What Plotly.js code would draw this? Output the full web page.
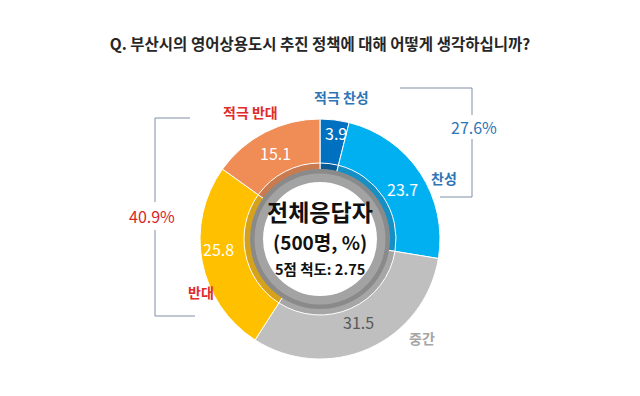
<!DOCTYPE html>
<html>
<head>
<meta charset="utf-8">
<script src="https://cdn.plot.ly/plotly-3.0.1.min.js"></script>
<style>html,body{margin:0;padding:0;background:#fff;}#chart{width:640px;height:396px;}</style>
</head>
<body>
<div id="chart"></div>
<script>
// ---- data ----
const categories = ["적극 찬성", "찬성", "중간", "반대", "적극 반대"];
const values = [3.9, 23.7, 31.5, 25.8, 15.1];
const titleText = "Q. 부산시의 영어상용도시 추진 정책에 대해 어떻게 생각하십니까?";
const centerLines = ["전체응답자", "(500명, %)", "5점 척도: 2.75"];

// ---- styles / layout constants ----
const sliceColors = ["#0070C0", "#00B0F0", "#BFBFBF", "#FFC000", "#F08C56"];
const bandColors  = ["#0A5A96", "#1690C4", "#A6A6A6", "#D6A21C", "#C97A4E"];
const valueColors = ["#FFFFFF", "#FFFFFF", "#595959", "#FFFFFF", "#FFFFFF"];
const catColors   = ["#2E75B6", "#2E75B6", "#A6A6A6", "#E02B2B", "#E02B2B"];
const valuePos = [[336,133],[402,189],[358,322],[218,249],[275,153]];
const catPos   = [[341,97],[444,178],[422,338],[201,292],[250,112]];
const W = 640, H = 396, CX = 320, CY = 239;
const FONT = "Noto Sans CJK KR, Noto Sans, sans-serif";

function dom(r){ return {x:[(CX-r)/W,(CX+r)/W], y:[1-(CY+r)/H, 1-(CY-r)/H]}; }
function px(x){ return x/W; } function py(y){ return 1-y/H; }

const base = {type:"pie", sort:false, direction:"clockwise", rotation:0,
  textinfo:"none", hoverinfo:"skip", showlegend:false};

const traces = [
  Object.assign({}, base, {values:values, labels:categories, domain:dom(120), hole:0.5,
    marker:{colors:sliceColors, line:{color:"#FFFFFF", width:1}}}),
  Object.assign({}, base, {values:values, labels:categories, domain:dom(76), hole:69/76,
    marker:{colors:bandColors, line:{color:"#FFFFFF", width:1}}}),
  Object.assign({}, base, {values:[1], labels:["r1"], domain:dom(70), hole:65/70,
    marker:{colors:["#8A8A8A"], line:{width:0}}}),
  Object.assign({}, base, {values:[1], labels:["r2"], domain:dom(65.5), hole:57/65.5,
    marker:{colors:["#A3A3A3"], line:{width:0}}})
];

const ann = [];
values.forEach((v,i)=>{
  ann.push({xref:"paper",yref:"paper",x:px(valuePos[i][0]),y:py(valuePos[i][1]),
    text:v.toFixed(1),showarrow:false,xanchor:"center",yanchor:"middle",
    font:{family:FONT,size:16,color:valueColors[i]}});
  ann.push({xref:"paper",yref:"paper",x:px(catPos[i][0]),y:py(catPos[i][1]),
    text:categories[i],showarrow:false,xanchor:"center",yanchor:"middle",
    font:{family:FONT,size:14,color:catColors[i],weight:"bold"}});
});
const agree = values[0]+values[1];
const disagree = values[3]+values[4];
ann.push({xref:"paper",yref:"paper",x:px(474),y:py(127),text:agree.toFixed(1)+"%",
  showarrow:false,xanchor:"center",yanchor:"middle",font:{family:FONT,size:16,color:"#2E75B6"}});
ann.push({xref:"paper",yref:"paper",x:px(152),y:py(216),text:disagree.toFixed(1)+"%",
  showarrow:false,xanchor:"center",yanchor:"middle",font:{family:FONT,size:16,color:"#D62828"}});
const cSizes = [23, 19, 14.5], cY = [211, 241, 268];
centerLines.forEach((t,i)=>{
  ann.push({xref:"paper",yref:"paper",x:px(CX),y:py(cY[i]),text:"<b>"+t+"</b>",borderpad:0,
    showarrow:false,xanchor:"center",yanchor:"middle",font:{family:FONT,size:cSizes[i],color:"#111111"}});
});

const lc = "#7F8FA6";
function seg(x0,y0,x1,y1){ return {type:"line",xref:"paper",yref:"paper",x0:px(x0),y0:py(y0),x1:px(x1),y1:py(y1),line:{color:lc,width:1}}; }
const shapes = [
  seg(400,88,472,88), seg(472,88,472,115), seg(472,139,472,197), seg(440,197,472,197),
  seg(155,118,190,118), seg(155,118,155,202), seg(155,230,155,316), seg(155,316,195,316)
];

const layout = {
  width:W, height:H, margin:{l:0,r:0,t:0,b:0}, paper_bgcolor:"#FFFFFF",
  title:{text:"<b>"+titleText+"</b>", x:0.5, xanchor:"center", y:py(45), yanchor:"middle",
    font:{family:FONT,size:15.5,color:"#262626"}},
  annotations:ann, shapes:shapes
};
Plotly.newPlot("chart", traces, layout, {staticPlot:true, displayModeBar:false});
</script>
</body>
</html>
